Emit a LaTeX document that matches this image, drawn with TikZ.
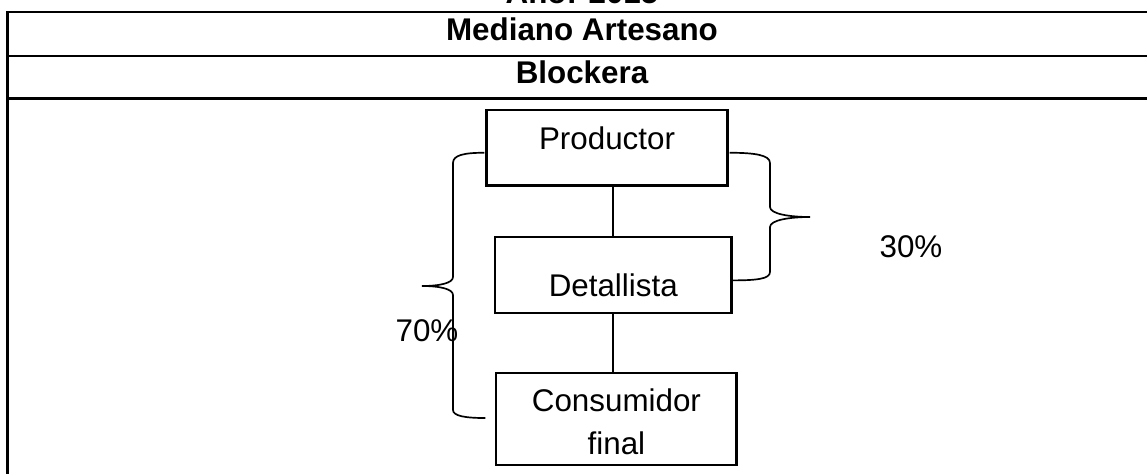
\documentclass[tikz,border=0pt]{standalone}
\usepackage{fontspec}
\setmainfont{Liberation Sans}
\usetikzlibrary{positioning, calc}

\begin{document}
\begin{tikzpicture}[x=0.025cm, y=-0.025cm, node distance=3.2cm, on grid, thick,
    font=\fontsize{22.3}{30.8}\selectfont,
    box/.style={draw, rectangle, line width=1.5pt, inner sep=0pt},
    head/.style={font=\fontsize{22.3}{26}\selectfont\bfseries, anchor=base},
    pct/.style={anchor=base},
    frame/.style={line width=1.9pt},
    curly/.style={line width=1.2pt}]
   \useasboundingbox (0,0) rectangle (1147,474);

   % table frame
   \foreach \y in {12,56,98.5}
     \draw[frame] (6.4,\y) -- (1150,\y);
   \draw[frame] (7.3,11) -- (7.3,476);

   \node[head] (anio) at (582,3.5) {Año: 2015};
   \node[head] (tamano) at (582,40.7) {Mediano Artesano};
   \node[head] (rubro) at (582,83.3) {Blockera};

   % channel
   \node[box, minimum width=6.025cm, text height=0.98cm, text depth=0.905cm] (prod) at (607,147.75) {Productor};
   \node[box, minimum width=5.91cm, text height=1.48cm, text depth=0.42cm] (det) [below=3.19cm of prod, xshift=0.156cm] {Detallista};
   \node[box, text width=6cm, align=center, text height=0.955cm, text depth=1.333cm] (cons) [below=3.59cm of det, xshift=0.08cm] {Consumidor\\final};

   \path[draw, line width=1.4pt]
    (det.north |- prod.south) -- (det.north)
    (det.south) -- (det.south |- cons.north);

   % shares
   \coordinate (ltip) at (422,286);
   \coordinate (rtip) at (810,217);
   \draw[curly] ($(prod.west)+(-1,5)$) .. controls +(-20,0) and +(0,-8) .. (453,163)
    -- (453,277) .. controls +(0,6) and +(18,0) .. (ltip)
    .. controls +(18,0) and +(0,-6) .. (453,295)
    -- (453,410) .. controls +(0,6) and +(-20,0) .. ($(cons.west)+(-10,-1)$);
   \draw[curly] ($(prod.east)+(1,5)$) .. controls +(25,0) and +(0,-8) .. (770,163)
    -- (770,207) .. controls +(0,7) and +(-20,0) .. (rtip)
    .. controls +(-20,0) and +(0,-7) .. (770,227)
    -- (770,272) .. controls +(0,7) and +(25,0) .. ($(det.east)+(-1,5)$);

   \node[pct] (p30) at (911,257) {30\%};
   \node[pct] (p70) at (427,341) {70\%};
\end{tikzpicture}
\end{document}
